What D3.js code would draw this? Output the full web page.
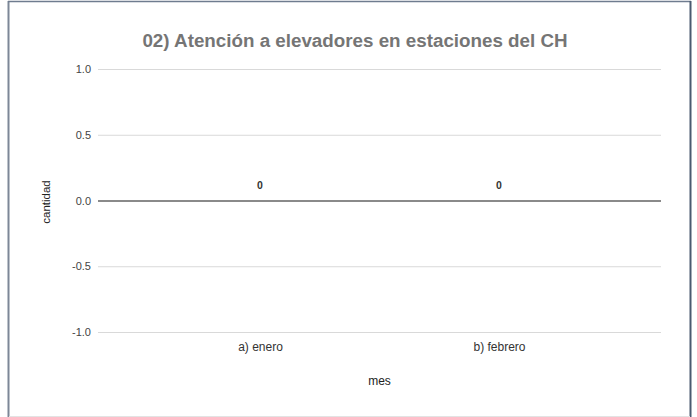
<!DOCTYPE html>
<html><head><meta charset="utf-8">
<script src="https://cdn.jsdelivr.net/npm/d3@7"></script>
<style>html,body{margin:0;padding:0;background:#fff;}svg{display:block;}</style>
</head><body>
<svg id="c" width="697" height="417"></svg>
<script>
const categories = ["a) enero", "b) febrero"];
const values = [0, 0];
const yTicks = [-1.0, -0.5, 0.0, 0.5, 1.0];
const title = "02) Atención a elevadores en estaciones del CH";
const xTitle = "mes";
const yTitle = "cantidad";

const svg = d3.select("#c");
const W = 697, H = 417;
const m = {left: 98, right: 36, top: 69, bottom: 85};
const font = "'Liberation Sans', Arial, sans-serif";

svg.append("rect").attr("x", 0).attr("y", 0).attr("width", W).attr("height", H).attr("fill", "#fff");
// frame
svg.append("line").attr("x1", 8.5).attr("x2", 8.5).attr("y1", 1).attr("y2", H).attr("stroke", "#7d8797").attr("stroke-width", 2);
svg.append("line").attr("x1", 8).attr("x2", 691).attr("y1", 1.5).attr("y2", 1.5).attr("stroke", "#6f7c8f").attr("stroke-width", 1.5);
svg.append("line").attr("x1", 690.5).attr("x2", 690.5).attr("y1", 1).attr("y2", H).attr("stroke", "#4a5a70").attr("stroke-width", 2);
svg.append("line").attr("x1", 9).attr("x2", 690).attr("y1", 416.5).attr("y2", 416.5).attr("stroke", "#e3e3e3").attr("stroke-width", 1);

const x = d3.scalePoint().domain(categories).range([m.left, W - m.right]).padding(0.678);
const y = d3.scaleLinear().domain([-1, 1]).range([H - m.bottom, m.top]);

const fmt = d => d3.format(".1f")(d).replace("−", "-");
const yAxis = d3.axisLeft(y).tickValues(yTicks).tickFormat(fmt).tickSize(-(W - m.right - m.left)).tickPadding(6);
const gy = svg.append("g").attr("transform", `translate(${m.left},0)`).call(yAxis);
gy.select(".domain").remove();
gy.selectAll(".tick line").attr("stroke", d => d === 0 ? "#8a8a8a" : "#d9d9d9").attr("stroke-width", d => d === 0 ? 2 : 1);
gy.selectAll(".tick text").attr("fill", "#444").attr("font-family", font).attr("font-size", 11).attr("x", -7);

const xAxis = d3.axisBottom(x).tickSize(0).tickPadding(10);
const gx = svg.append("g").attr("transform", `translate(0,${H - m.bottom})`).call(xAxis);
gx.select(".domain").remove();
gx.selectAll(".tick text").attr("fill", "#333").attr("font-family", font).attr("font-size", 12);

// data labels
svg.append("g").selectAll("text").data(values).join("text")
  .attr("x", (d, i) => x(categories[i]))
  .attr("y", d => y(d) - 12)
  .attr("text-anchor", "middle")
  .attr("font-family", font).attr("font-size", 10.5).attr("font-weight", "bold").attr("fill", "#333")
  .text(d => d);

// title
svg.append("text").attr("x", 355).attr("y", 47).attr("text-anchor", "middle")
  .attr("font-family", font).attr("font-size", 18.8).attr("font-weight", "bold").attr("fill", "#757575").text(title);

svg.append("text").attr("x", (m.left + W - m.right) / 2).attr("y", 385).attr("text-anchor", "middle")
  .attr("font-family", font).attr("font-size", 12).attr("fill", "#222").text(xTitle);

svg.append("text").attr("transform", "translate(50,202) rotate(-90)").attr("text-anchor", "middle")
  .attr("font-family", font).attr("font-size", 11.5).attr("fill", "#222").text(yTitle);
</script>
</body></html>
